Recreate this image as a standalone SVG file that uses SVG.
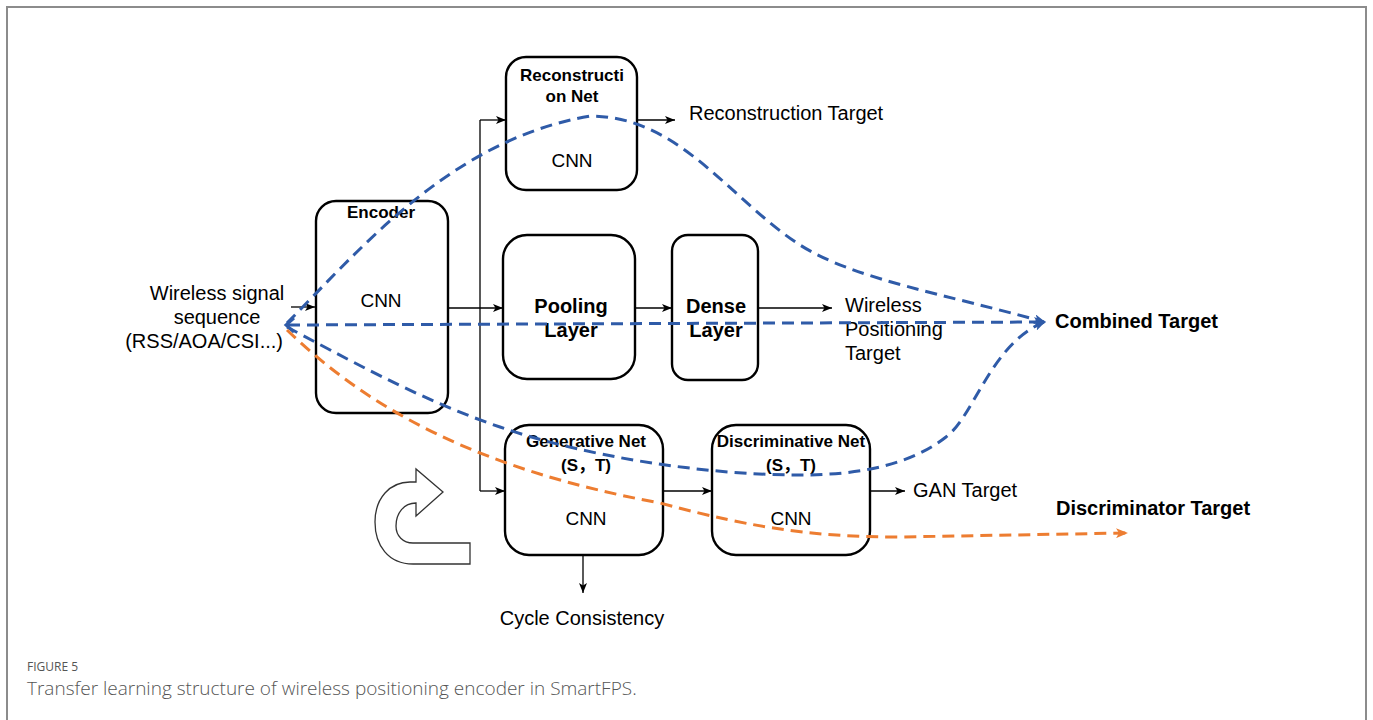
<svg xmlns="http://www.w3.org/2000/svg" width="1373" height="720" viewBox="0 0 1373 720">
<style>
.box{fill:#fff;stroke:#000;stroke-width:2.4}
.t{font-family:"Liberation Sans",Arial,"Noto Sans CJK SC",sans-serif;fill:#000}
.r20{font-size:20px}
.b17{font-size:17px;font-weight:bold}
.b20{font-size:20px;font-weight:bold}
.cnn{font-size:19px}
.c{text-anchor:middle}
.ln{fill:none;stroke:#000;stroke-width:1.3}
.bl{fill:none;stroke:#2f5ba8;stroke-width:3;stroke-dasharray:12 7}
.or{fill:none;stroke:#ed7d31;stroke-width:3;stroke-dasharray:12 7}
.cap{font-family:"Open Sans","Liberation Sans",sans-serif;fill:#555}
</style>
<defs>
<marker id="arr" viewBox="0 0 10 8" refX="10" refY="4" markerWidth="10" markerHeight="8" markerUnits="userSpaceOnUse" orient="auto"><path d="M0,0 L10,4 L0,8 L2.5,4 Z" fill="#000"/></marker>
<marker id="ab" viewBox="0 0 12 10" refX="10" refY="5" markerWidth="12" markerHeight="10" markerUnits="userSpaceOnUse" orient="auto"><path d="M0,0 L12,5 L0,10 L3,5 Z" fill="#2f5ba8"/></marker>
<marker id="ao" viewBox="0 0 12 10" refX="10" refY="5" markerWidth="12" markerHeight="10" markerUnits="userSpaceOnUse" orient="auto"><path d="M0,0 L12,5 L0,10 L3,5 Z" fill="#ed7d31"/></marker>
</defs>
<rect width="1373" height="720" fill="#fff"/>
<path d="M7,720 L7,7 L1366,7 L1366,720" fill="none" stroke="#8c8c8c" stroke-width="2"/>

<g id="input"><text class="t r20 c" x="217" y="300">Wireless signal</text><text class="t r20 c" x="217" y="324">sequence</text><text class="t r20" x="283" y="348" text-anchor="end">(RSS/AOA/CSI...)</text></g>
<g id="encoder"><rect class="box" x="316" y="201" width="132" height="212" rx="20"/><text class="t b17 c" x="381" y="218">Encoder</text><text class="t cnn c" x="381" y="307">CNN</text></g>
<g id="recon"><rect class="box" x="506" y="57" width="131" height="133" rx="20"/><text class="t b17 c" x="572" y="81">Reconstructi</text><text class="t b17 c" x="572" y="102">on Net</text><text class="t cnn c" x="572" y="167">CNN</text></g>
<g id="pooling"><rect class="box" x="503" y="235" width="132" height="144" rx="24"/><text class="t b20 c" x="571" y="313">Pooling</text><text class="t b20 c" x="571" y="337">Layer</text></g>
<g id="dense"><rect class="box" x="672" y="235" width="86" height="145" rx="16"/><text class="t b20 c" x="716" y="313">Dense</text><text class="t b20 c" x="716" y="337">Layer</text></g>
<g id="generative"><rect class="box" x="505" y="425" width="158" height="130" rx="24"/><text class="t b17 c" x="586" y="447">Generative Net</text><text class="t b17 c" x="586" y="471">(S，T)</text><text class="t cnn c" x="586" y="525">CNN</text></g>
<g id="discriminative"><rect class="box" x="712" y="425" width="158" height="130" rx="24"/><text class="t b17 c" x="791" y="447">Discriminative Net</text><text class="t b17 c" x="791" y="471">(S，T)</text><text class="t cnn c" x="791" y="525">CNN</text></g>
<g id="labels">
<text class="t r20" x="689" y="120">Reconstruction Target</text>
<text class="t r20" x="845" y="312">Wireless</text><text class="t r20" x="845" y="336">Positioning</text><text class="t r20" x="845" y="360">Target</text>
<text class="t r20" x="913" y="497">GAN Target</text>
<text class="t r20 c" x="582" y="625">Cycle Consistency</text>
<text class="t b20" x="1055" y="328">Combined Target</text>
<text class="t b20" x="1056" y="515">Discriminator Target</text>
</g>
<g id="cycle-icon"><path d="M470,564 L413,564 C388,564 375,545 375,522 C375,498 390,482 410,482 L416,482 L416,469 L443,492 L416,516 L416,503 C404,503 396,513 396,526 C396,536 403,543 413,543 L470,543 Z" fill="#fff" stroke="#333" stroke-width="1.3"/></g>
<g id="connectors">
<path class="ln" d="M291,307 L315,307" marker-end="url(#arr)"/>
<path class="ln" d="M448,308 L503,308" marker-end="url(#arr)"/>
<path class="ln" d="M480,120 L480,491"/>
<path class="ln" d="M480,120 L506,120" marker-end="url(#arr)"/>
<path class="ln" d="M480,491 L505,491" marker-end="url(#arr)"/>
<path class="ln" d="M637,120 L675,120" marker-end="url(#arr)"/>
<path class="ln" d="M635,308 L672,308" marker-end="url(#arr)"/>
<path class="ln" d="M758,308 L832,308" marker-end="url(#arr)"/>
<path class="ln" d="M663,491 L712,491" marker-end="url(#arr)"/>
<path class="ln" d="M870,491 L905,491" marker-end="url(#arr)"/>
<path class="ln" d="M583,555 L583,593" marker-end="url(#arr)"/>
<path class="bl" d="M287,323 C360,250 450,140 590,116 C680,116 730,200 800,245 C855,280 950,295 1044,322" marker-end="url(#ab)"/>
<path class="bl" d="M288,325 L1044,322" marker-end="url(#ab)"/>
<path class="bl" d="M287,327 C340,355 420,400 500,427 C580,455 700,475 800,475 C860,475 910,465 946,437 C975,415 990,345 1044,322" marker-end="url(#ab)"/>
<path d="M294,318 L286,325 L294,332" fill="none" stroke="#2f5ba8" stroke-width="3"/>
<path class="or" d="M287,330 C370,410 480,470 660,503 C760,530 820,537 900,537 L1126,533" marker-end="url(#ao)"/>
</g>
<g id="caption"><text class="cap" x="27" y="671" font-size="12">FIGURE 5</text><text class="cap" x="27" y="695" font-size="19" font-weight="300">Transfer learning structure of wireless positioning encoder in SmartFPS.</text></g>
</svg>
